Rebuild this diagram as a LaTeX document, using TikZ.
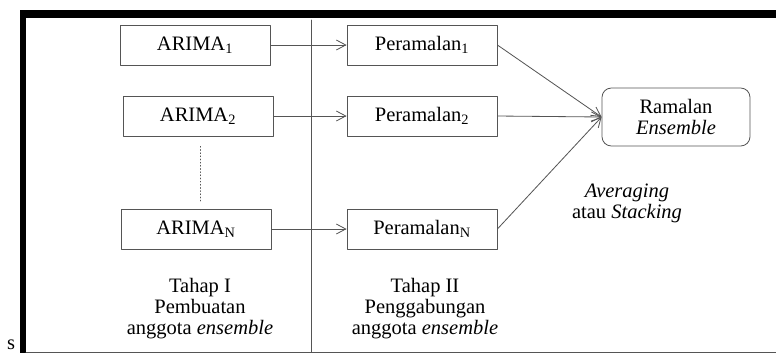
\documentclass[tikz,border=0pt]{standalone}
\usepackage{fontspec}
\setmainfont{Liberation Serif}
\usetikzlibrary{arrows.meta}
\definecolor{garis}{HTML}{555555}
\tikzset{
  every picture/.style={line join=round, line cap=round, >={Straight Barb[length=8pt,width=8.5pt]}},
  teks/.style={font=\fontsize{17.5}{18}\selectfont, align=center, inner sep=0pt},
  kotak/.style={teks, draw=garis, line width=0.7pt, minimum width=4.5cm, minimum height=1.2cm},
  bulat/.style={kotak, rounded corners=8pt, minimum width=4.44cm, minimum height=1.74cm},
  panah/.style={->, draw=garis, line width=0.7pt},
}

\begin{document}
\begin{tikzpicture}[x=0.03cm,y=-0.03cm]
\useasboundingbox (0,0) rectangle (776,353);
% bingkai
\fill (20,10) rectangle (776,18);
\fill (20,10) rectangle (26,353);
\draw[garis, line width=0.8pt] (26,352) -- (776,352);
\node[teks, anchor=base] (huruf) at (11,349) {s};
% pemisah tahap
\draw[garis, line width=0.7pt] (311,20) -- (311,352);
% tahap I
\node[kotak] (a1) at (195,45) {ARIMA\textsubscript{1}};
\node[kotak] (a2) at (198,116) {ARIMA\textsubscript{2}};
\node[kotak] (aN) at (196,229) {ARIMA\textsubscript{N}};
\draw[garis, dotted, line width=0.7pt] ([xshift=0.06cm,yshift=-0.3cm]a2.south) -- ([xshift=0.12cm,yshift=0.18cm]aN.north);
% tahap II
\node[kotak] (p1) at (422,45) {Peramalan\textsubscript{1}};
\node[kotak] (p2) at (422,116) {Peramalan\textsubscript{2}};
\node[kotak] (pN) at (422,229) {Peramalan\textsubscript{N}};
\node[bulat] (ram) at (676,117) {Ramalan\\\textit{Ensemble}};
\draw[panah] (a1) -- (p1);
\draw[panah] (a2) -- (p2);
\draw[panah] (aN) -- (pN);
\draw[panah] (p1.east) -- (ram.west);
\draw[panah] (p2.east) -- (ram.west);
\draw[panah] (pN.east) -- (ram.west);
% keterangan
\node[teks] (avg) at (627,203) {\textit{Averaging}\\atau \textit{Stacking}};
\node[teks] (t1) at (200,309) {Tahap I\\Pembuatan\\anggota \textit{ensemble}};
\node[teks] (t2) at (425,309) {Tahap II\\Penggabungan\\anggota \textit{ensemble}};
\end{tikzpicture}
\end{document}
